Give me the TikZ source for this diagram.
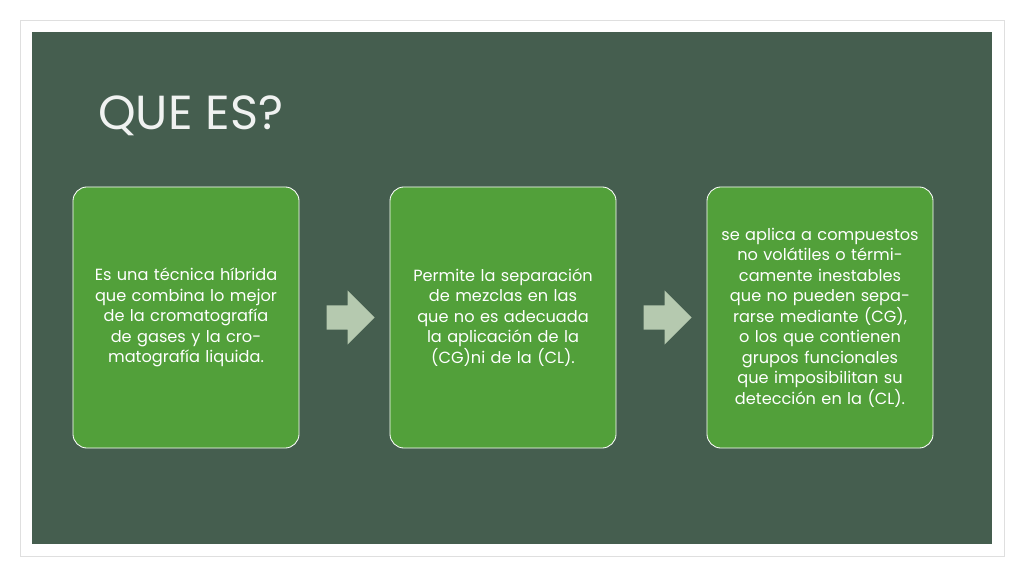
\documentclass[tikz,border=0pt]{standalone}
\usepackage{fontspec}
\setmainfont{Poppins}
\usetikzlibrary{positioning,shapes.arrows,calc}
\definecolor{panel}{HTML}{455E4F}
\definecolor{boxgreen}{HTML}{52A03A}
\definecolor{arrowsage}{HTML}{B5C9AF}
\tikzset{
	stepbox/.style={draw=white, line width=0.6pt, fill=boxgreen, rounded corners=10pt, text=white,
		minimum width=5.65cm, minimum height=6.525cm, text width=5.1cm, align=center,
		font=\fontsize{11.5}{14.6}\selectfont},
	flowarrow/.style={single arrow, fill=arrowsage, draw=none, minimum height=1.2cm, minimum width=1.35cm,
		single arrow head extend=0.15cm, single arrow tip angle=90},
}
\begin{document}
\begin{tikzpicture}[x=0.025cm,y=-0.025cm]
\useasboundingbox (0,0) rectangle (1024,576);
\fill[white] (0,0) rectangle (1024,576);
\draw[gray!25] (20,20) rectangle (1004,556);
\fill[panel] (32,32) rectangle (992,544);
\node[anchor=base west, text=white!92!panel, font=\fontsize{34}{40}\selectfont, inner sep=0pt] (title) at (98,130) {QUE ES?};
\node[stepbox] (b1) at (186,317.5) {Es una técnica híbrida que combina lo mejor de la cromatografía de gases y la cromatografía liquida.};
\node[stepbox] (b2) at (503,317.5) {Permite la separación de mezclas en las que no es adecuada la aplicación de la (CG)ni de la (CL).};
\node[stepbox] (b3) at (820,317.5) {se aplica a compuestos no volátiles o térmicamente inestables que no pueden separarse mediante (CG), o los que contienen grupos funcionales que imposibilitan su detección en la (CL).};
\node[flowarrow] (a1) at ($(b1.east)!0.5!(b2.west)$) {};
\node[flowarrow] (a2) at ($(b2.east)!0.5!(b3.west)$) {};
\end{tikzpicture}
\end{document}
